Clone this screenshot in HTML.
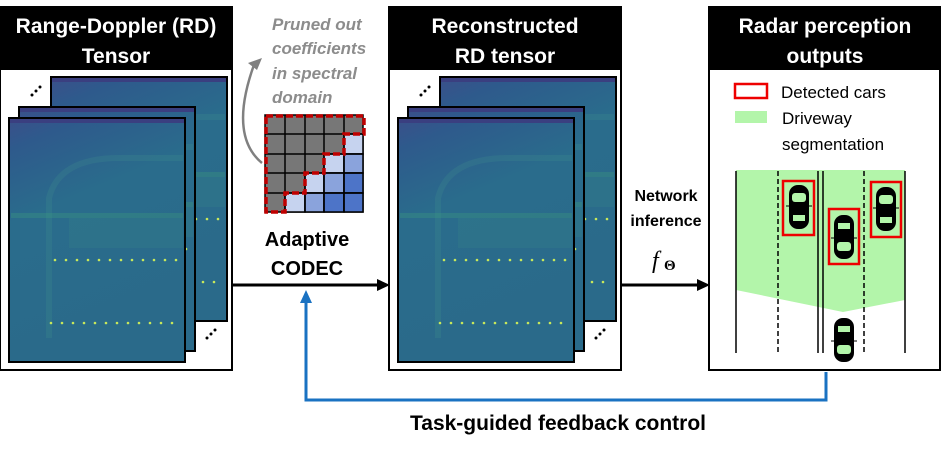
<!DOCTYPE html>
<html><head><meta charset="utf-8"><style>
html,body{margin:0;padding:0;background:#fff;}
svg{display:block;font-family:"Liberation Sans",Arial,sans-serif;}
</style></head><body>
<svg width="947" height="455" viewBox="0 0 947 455" xmlns="http://www.w3.org/2000/svg">
<defs>
<linearGradient id="hm" x1="0" y1="0" x2="0.3" y2="1">
<stop offset="0" stop-color="#3b4f8a"/>
<stop offset="0.12" stop-color="#2e5a8c"/>
<stop offset="0.4" stop-color="#2a6c8c"/>
<stop offset="1" stop-color="#2a6a8a"/>
</linearGradient>
<g id="frame">
<rect x="0" y="0" width="176" height="244" fill="url(#hm)" stroke="#000" stroke-width="2"/>
<rect x="1" y="1" width="174" height="4" fill="#3a3f80"/>
<path d="M40 220 L40 80 Q50 40 110 40 L174 40" fill="none" stroke="#3f8e8a" stroke-width="6" opacity="0.25"/>
<rect x="2" y="95" width="172" height="5" fill="#3d9a7e" opacity="0.35"/>
<rect x="60" y="100" width="114" height="30" fill="#3a8f86" opacity="0.2"/>
<g fill="#c8e85a">
<circle cx="46" cy="142" r="1.3"/><circle cx="57" cy="142" r="1.3"/><circle cx="68" cy="142" r="1.3"/><circle cx="79" cy="142" r="1.3"/><circle cx="90" cy="142" r="1.3"/><circle cx="101" cy="142" r="1.3"/><circle cx="112" cy="142" r="1.3"/><circle cx="123" cy="142" r="1.3"/><circle cx="134" cy="142" r="1.3"/><circle cx="145" cy="142" r="1.3"/><circle cx="156" cy="142" r="1.3"/><circle cx="167" cy="142" r="1.3"/>
<circle cx="42" cy="205" r="1.3"/><circle cx="53" cy="205" r="1.3"/><circle cx="64" cy="205" r="1.3"/><circle cx="75" cy="205" r="1.3"/><circle cx="86" cy="205" r="1.3"/><circle cx="97" cy="205" r="1.3"/><circle cx="108" cy="205" r="1.3"/><circle cx="119" cy="205" r="1.3"/><circle cx="130" cy="205" r="1.3"/><circle cx="141" cy="205" r="1.3"/><circle cx="152" cy="205" r="1.3"/><circle cx="163" cy="205" r="1.3"/>
</g>
</g>
<g id="panelstack">
<rect x="0" y="7" width="232" height="363" fill="#fff" stroke="#000" stroke-width="2"/>
<rect x="0" y="7" width="232" height="63" fill="#000"/>
<use href="#frame" x="51" y="77"/>
<use href="#frame" x="19" y="107"/>
<use href="#frame" x="9" y="118"/>
<g fill="#000"><circle cx="32" cy="95" r="1.5"/><circle cx="36" cy="91" r="1.5"/><circle cx="40" cy="87" r="1.5"/>
<circle cx="207" cy="338" r="1.5"/><circle cx="211" cy="334" r="1.5"/><circle cx="215" cy="330" r="1.5"/></g>
</g>
<g id="car">
<rect x="-10" y="-22" width="20" height="44" rx="9" fill="#000"/>
<rect x="-6" y="-14" width="12" height="6" fill="#b3f5aa"/>
<rect x="-7" y="5" width="14" height="9" rx="3" fill="#b3f5aa"/>
<line x1="-13" y1="1" x2="13" y2="1" stroke="#000" stroke-width="1"/>
</g>
</defs>

<use href="#panelstack" x="0" y="0"/>
<use href="#panelstack" x="389" y="0"/>

<g fill="#fff" font-weight="bold" font-size="21" text-anchor="middle">
<text x="116" y="33">Range-Doppler (RD)</text>
<text x="116" y="63">Tensor</text>
<text x="505" y="33">Reconstructed</text>
<text x="505" y="63">RD tensor</text>
</g>

<g stroke="#000" stroke-width="1.5">
<rect x="265" y="115" width="98" height="97" fill="#777"/>
<rect x="344" y="134" width="19" height="20" fill="#c6d3ef"/>
<rect x="324" y="154" width="20" height="19" fill="#c6d3ef"/>
<rect x="344" y="154" width="19" height="19" fill="#8aa3dc"/>
<rect x="305" y="173" width="19" height="20" fill="#c6d3ef"/>
<rect x="324" y="173" width="20" height="20" fill="#8aa3dc"/>
<rect x="344" y="173" width="19" height="20" fill="#4d74c8"/>
<rect x="285" y="193" width="20" height="19" fill="#c6d3ef"/>
<rect x="305" y="193" width="19" height="19" fill="#8aa3dc"/>
<rect x="324" y="193" width="20" height="19" fill="#4d74c8"/>
<rect x="344" y="193" width="19" height="19" fill="#4d74c8"/>
<path d="M285 115V212M305 115V212M324 115V212M344 115V212M265 134H363M265 154H363M265 173H363M265 193H363" fill="none"/>
</g>
<path d="M266 116 H364 V134 H344 V154 H324 V173 H305 V193 H285 V212 H266 Z" fill="none" stroke="#c00000" stroke-width="3.5" stroke-dasharray="7,3"/>
<path d="M262 163 Q228 135 255 62" fill="none" stroke="#808080" stroke-width="2.5"/>
<path d="M262 58 L248 63 L257 70 Z" fill="#808080"/>
<g fill="#8c8c8c" font-weight="bold" font-style="italic" font-size="17">
<text x="272" y="30">Pruned out</text>
<text x="272" y="54">coefficients</text>
<text x="272" y="79">in spectral</text>
<text x="272" y="103">domain</text>
</g>
<g fill="#000" font-weight="bold" font-size="20" text-anchor="middle">
<text x="307" y="246">Adaptive</text>
<text x="307" y="275">CODEC</text>
</g>

<line x1="232" y1="285" x2="378" y2="285" stroke="#000" stroke-width="3"/>
<path d="M390 285 L377 279 L377 291 Z" fill="#000"/>
<line x1="621" y1="285" x2="698" y2="285" stroke="#000" stroke-width="3"/>
<path d="M710 285 L697 279 L697 291 Z" fill="#000"/>
<g fill="#000" font-weight="bold" font-size="16" text-anchor="middle">
<text x="666" y="201">Network</text>
<text x="666" y="226">inference</text>
</g>
<text x="652" y="268" font-family="Liberation Serif,serif" font-style="italic" font-size="24">f</text>
<text x="664" y="270" font-family="Liberation Serif,serif" font-weight="bold" font-size="15">Θ</text>

<path d="M826 372 V400 H306 V302" fill="none" stroke="#1a72c2" stroke-width="3"/>
<path d="M306 290 L300 303 L312 303 Z" fill="#1a72c2"/>
<text x="558" y="430" font-weight="bold" font-size="21" text-anchor="middle" fill="#000">Task-guided feedback control</text>

<rect x="709" y="7" width="231" height="363" fill="#fff" stroke="#000" stroke-width="2"/>
<rect x="709" y="7" width="231" height="63" fill="#000"/>
<g fill="#fff" font-weight="bold" font-size="21" text-anchor="middle">
<text x="825" y="33">Radar perception</text>
<text x="825" y="63">outputs</text>
</g>
<rect x="735" y="84" width="32" height="14" fill="none" stroke="#e00" stroke-width="2.5"/>
<rect x="735" y="111" width="32" height="12" fill="#b3f5aa"/>
<g fill="#000" font-size="17">
<text x="781" y="98">Detected cars</text>
<text x="782" y="124">Driveway</text>
<text x="782" y="150">segmentation</text>
</g>
<path d="M736 170 H905 V300 L843 312 L736 290 Z" fill="#b3f5aa"/>
<g stroke="#000" stroke-width="1.5">
<line x1="736" y1="171" x2="736" y2="353"/>
<line x1="818" y1="171" x2="818" y2="353"/>
<line x1="823" y1="171" x2="823" y2="353"/>
<line x1="905" y1="171" x2="905" y2="353"/>
<line x1="778" y1="171" x2="778" y2="353" stroke-dasharray="5,3"/>
<line x1="864" y1="171" x2="864" y2="353" stroke-dasharray="5,3"/>
</g>
<use href="#car" x="799" y="207" transform="rotate(180 799 207)"/>
<use href="#car" x="844" y="237"/>
<use href="#car" x="886" y="209" transform="rotate(180 886 209)"/>
<use href="#car" x="844" y="340"/>
<g fill="none" stroke="#e00" stroke-width="2.5">
<rect x="783" y="181" width="31" height="54"/>
<rect x="829" y="209" width="30" height="55"/>
<rect x="871" y="182" width="30" height="55"/>
</g>
</svg>
</body></html>
